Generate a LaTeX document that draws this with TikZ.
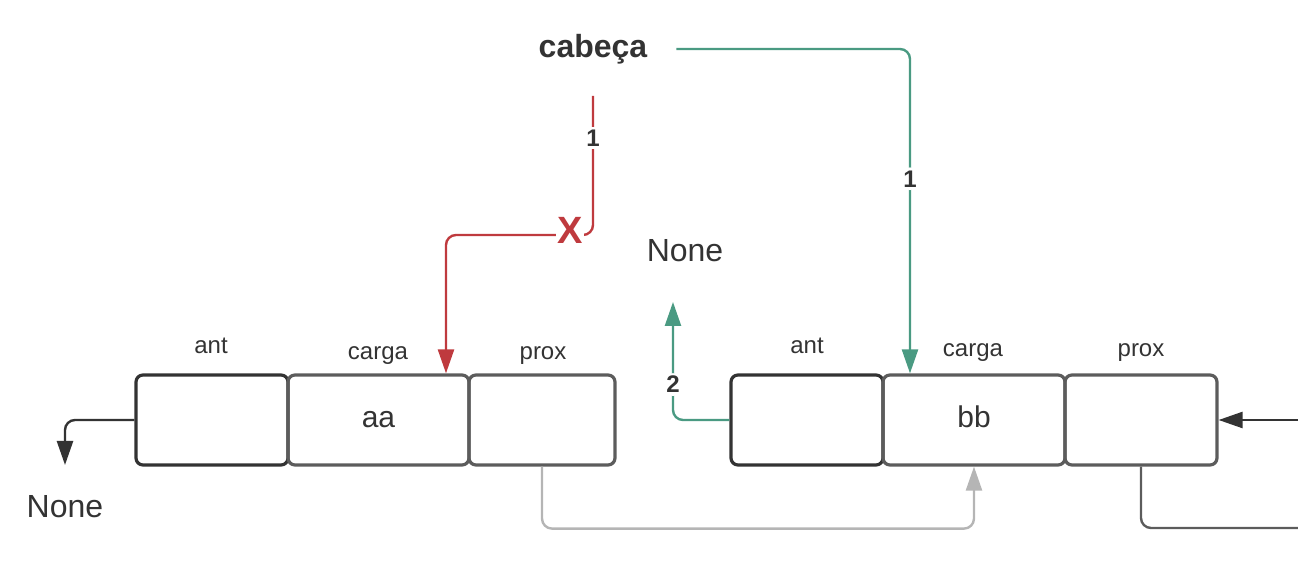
\documentclass[tikz,border=0pt]{standalone}
\usepackage{fontspec}
\setmainfont{Liberation Sans}
\usetikzlibrary{arrows.meta,positioning,calc}

\definecolor{txt}{HTML}{333333}
\definecolor{boxgray}{HTML}{5C5C5C}
\definecolor{lightgray}{HTML}{B5B5B5}
\definecolor{headgreen}{HTML}{4A9A82}
\definecolor{cutred}{HTML}{BF3A3E}

\begin{document}
\begin{tikzpicture}[x=0.5pt, y=-0.5pt,
  field/.style={draw=boxgray, line width=1.6pt, rounded corners=3.5pt, minimum height=45pt, inner sep=0pt, text height=11pt, text depth=3pt, font=\fontsize{15}{18}\selectfont, text=txt},
  firstfield/.style={field, draw=txt},
  lbl/.style={font=\fontsize{12}{14}\selectfont, text=txt, text height=9pt, text depth=2.5pt},
  nonelbl/.style={font=\fontsize{16}{19}\selectfont, text=txt},
  numlbl/.style={font=\bfseries\fontsize{12}{14}\selectfont, text=txt, fill=white, inner sep=1.5pt},
  link/.style={line width=1.2pt, rounded corners=5pt, -{Triangle[length=12pt,width=8pt]}}]

\useasboundingbox (0,0) rectangle (1298,566);

% First node (aa)
\node[firstfield, minimum width=76pt] (ant1) at (212,420) {};
\node[field, minimum width=90.5pt] (carga1) at (378.5,420) {aa};
\node[field, minimum width=73pt] (prox1) at (542,420) {};
\node[lbl] (antlbl1) at (211,347.5) {ant};
\node[lbl] (cargalbl1) at (378,353.5) {carga};
\node[lbl] (proxlbl1) at (543,353.5) {prox};

% Second node (bb)
\node[firstfield, minimum width=76pt] (ant2) at (807,420) {};
\node[field, minimum width=91pt] (carga2) at (974,420) {bb};
\node[field, minimum width=76pt] (prox2) at (1141,420) {};
\node[lbl] (antlbl2) at (807,347.5) {ant};
\node[lbl] (cargalbl2) at (973,350.5) {carga};
\node[lbl] (proxlbl2) at (1141,350.5) {prox};

% Head and None texts
\node[font=\bfseries\fontsize{16}{19}\selectfont, text=txt] (cabeca) at (593,49) {cabeça};
\node[nonelbl] (none1) at (65,507) {None};
\node[nonelbl] (none2) at (685,251) {None};

% Free ends
\coordinate (oldhead) at (593,96);
\coordinate (bend) at (446,235);
\coordinate (nonetip) at (65,465);
\coordinate (uptip) at (673,302);
\coordinate (entry) at (1298,420);
\coordinate (exitr) at (1298,528);

% Old head link (cut)
\draw[link, cutred] (oldhead) |- (bend) -- (bend |- carga1.north);
\node[numlbl] (redone) at (593,138) {1};
\node[font=\bfseries\fontsize{19}{22}\selectfont, text=cutred, fill=white, inner sep=0.5pt] (cross) at (570,230) {X};

% New head link
\draw[link, headgreen, shorten <=11pt] (cabeca.east) -| ([xshift=-32pt]carga2.north)
  node[numlbl, pos=0.7] (greenone) {1};

% ant links
\draw[link, txt] (ant1.west) -| (nonetip);
\draw[link, headgreen] (ant2.west) -| (uptip)
  node[numlbl, pos=0.65] (greentwo) {2};

% prox links
\draw[link, lightgray] (prox1.south) -- ++(0,62) -| (carga2.south);
\draw[line width=1.2pt, rounded corners=5pt, boxgray] (prox2.south) |- (exitr);
\draw[link, txt] (entry) -- (prox2.east);

\end{tikzpicture}
\end{document}
